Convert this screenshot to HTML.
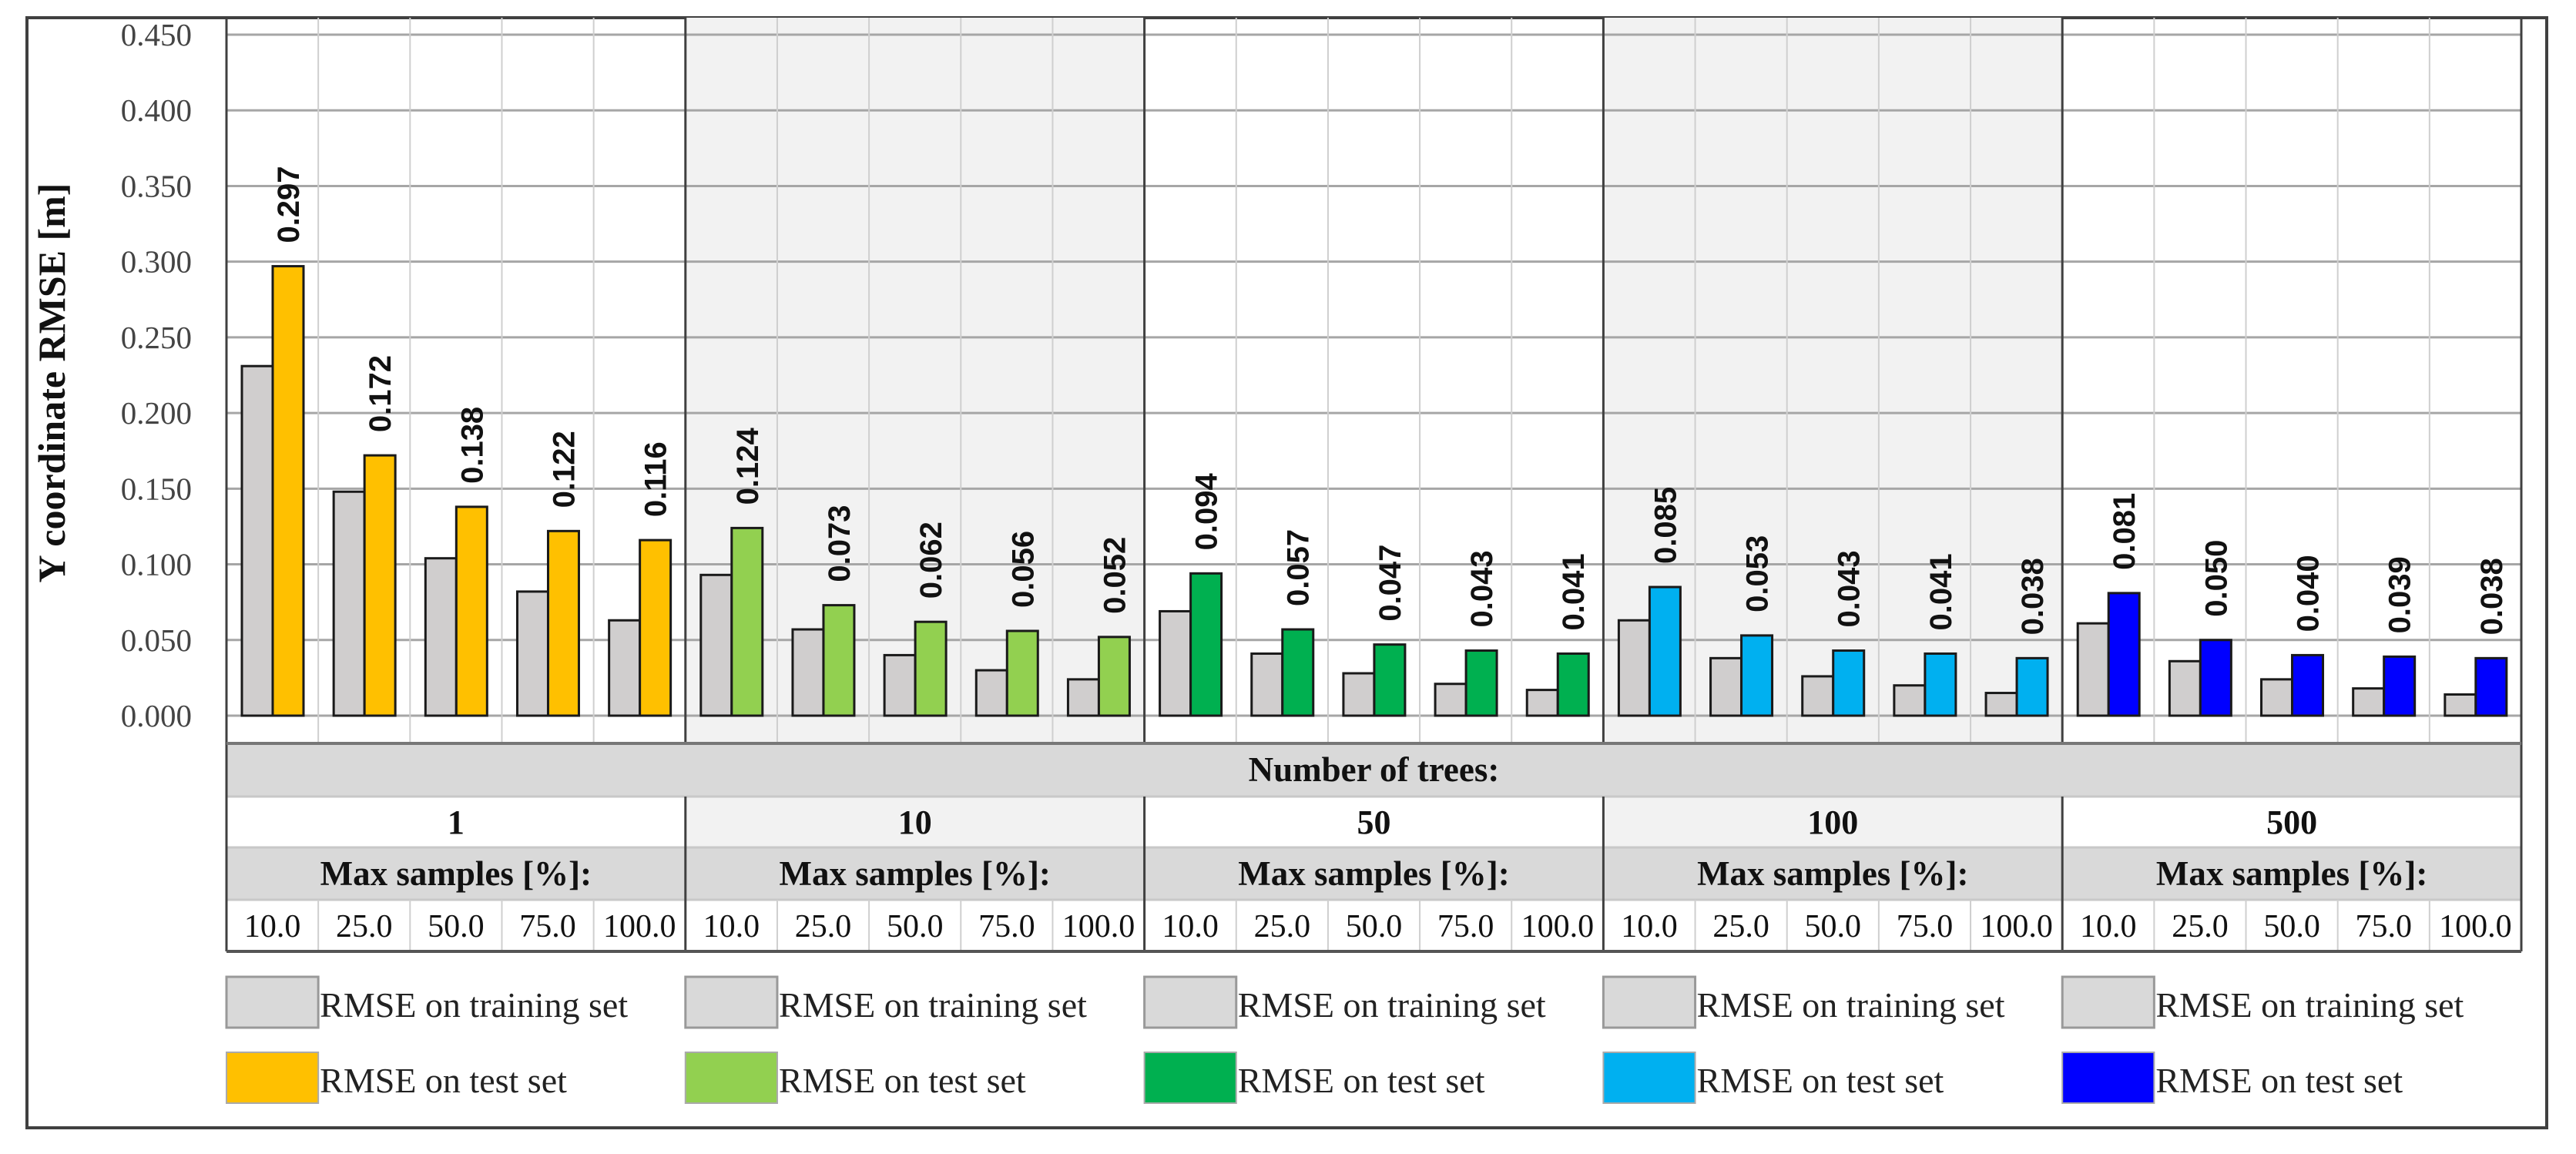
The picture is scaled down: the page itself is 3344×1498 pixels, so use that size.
<!DOCTYPE html>
<html><head><meta charset="utf-8"><style>
html,body{margin:0;padding:0;background:#fff;}
svg{display:block;}
</style></head><body>
<svg id="chart" xmlns="http://www.w3.org/2000/svg" width="3344" height="1498" viewBox="0 0 3344 1498"></svg>
<script>
const groups = ["1","10","50","100","500"];
const samples = ["10.0","25.0","50.0","75.0","100.0"];
const trainValues = [
  [0.231,0.148,0.104,0.082,0.063],
  [0.093,0.057,0.040,0.030,0.024],
  [0.069,0.041,0.028,0.021,0.017],
  [0.063,0.038,0.026,0.020,0.015],
  [0.061,0.036,0.024,0.018,0.014]
];
const testValues = [
  [0.297,0.172,0.138,0.122,0.116],
  [0.124,0.073,0.062,0.056,0.052],
  [0.094,0.057,0.047,0.043,0.041],
  [0.085,0.053,0.043,0.041,0.038],
  [0.081,0.050,0.040,0.039,0.038]
];
const yTicks = [0,0.05,0.1,0.15,0.2,0.25,0.3,0.35,0.4,0.45];
const testColors = ["#ffc000","#92d050","#00b050","#00b0f0","#0000ff"];

const svg = document.getElementById('chart');
const NS = "http://www.w3.org/2000/svg";
function mk(tag, attrs, parent){const e=document.createElementNS(NS,tag);for(const k in attrs)e.setAttribute(k,attrs[k]);(parent||svg).appendChild(e);return e;}
const L=294, R=3273, TOP=23, Y0=929, YMAX=45, PB=965;
const gW=(R-L)/5, sW=gW/5;
function y(v){return Y0-(v/0.45)*(Y0-YMAX);}
function gx(i){return L+i*gW;}
const serif='"Liberation Serif", serif';

let f=mk('rect',{x:35,y:23,width:3271,height:1441,fill:'#fff',stroke:'#404040','stroke-width':4});



[1,3].forEach(i=>{
  let r=mk('rect',{x:gx(i),y:TOP,width:gW,height:PB-TOP,fill:'#f2f2f2'});
  
  
  let r2=mk('rect',{x:gx(i),y:1034,width:gW,height:66,fill:'#f2f2f2'});
  
  
});
[[965,1034],[1100,1168]].forEach(([a,b])=>{
  let r=mk('rect',{x:L,y:a,width:R-L,height:b-a,fill:'#d9d9d9',stroke:'#c8c8c8','stroke-width':3});
  
  
});
yTicks.forEach(t=>{
  let l=mk('line',{x1:L,x2:R,y1:y(t),y2:y(t),stroke:'#a6a6a6','stroke-width':3});
  
  
  let tx=mk('text',{x:249,y:y(t)+14,'text-anchor':'end','font-family':serif,'font-size':41,fill:'#444'});
  tx.textContent=t.toFixed(3);
  
  
});
for(let i=1;i<25;i++){
  if(i%5===0)continue;
  let x=L+i*sW;
  [[TOP,PB],[1168,1235]].forEach(([a,b])=>{
    let l=mk('line',{x1:x,x2:x,y1:a,y2:b,stroke:'#cfcfcf','stroke-width':2});
    
    
  });
}
for(let g=0;g<5;g++){
  for(let s=0;s<5;s++){
    const x0=gx(g)+s*sW+20;
    let b1=mk('rect',{x:x0,y:y(trainValues[g][s]),width:40,height:Y0-y(trainValues[g][s]),fill:'#d0cece',stroke:'#1a1a1a','stroke-width':3});
    
    
    let b2=mk('rect',{x:x0+40,y:y(testValues[g][s]),width:40,height:Y0-y(testValues[g][s]),fill:testColors[g],stroke:'#1a1a1a','stroke-width':3});
    
    
    const cx=x0+60, ty=y(testValues[g][s])-30;
    let t=mk('text',{x:cx+14,y:ty,transform:`rotate(-90 ${cx+14} ${ty})`,'font-family':'"Liberation Sans", sans-serif','font-size':40,'font-weight':'bold',fill:'#111'});
    t.textContent=testValues[g][s].toFixed(3);
    
    
  }
}
for(let i=0;i<=5;i++){
  let x=gx(i);
  let l=mk('line',{x1:x,x2:x,y1:TOP,y2:i===0||i===5?1235:965,stroke:'#404040','stroke-width':3});
  
  
  if(i>0&&i<5){
    let l2=mk('line',{x1:x,x2:x,y1:1034,y2:1235,stroke:'#404040','stroke-width':3});
    
    
  }
}
let bl=mk('line',{x1:L,x2:R,y1:1235,y2:1235,stroke:'#555','stroke-width':4});


let pl=mk('line',{x1:L,x2:R,y1:PB,y2:PB,stroke:'#777','stroke-width':4});


let nt=mk('text',{x:(L+R)/2,y:1014,'text-anchor':'middle','font-family':serif,'font-size':45,'font-weight':'bold',fill:'#111'});
nt.textContent='Number of trees:';


for(let g=0;g<5;g++){
  const c=gx(g)+gW/2;
  let t=mk('text',{x:c,y:1082,'text-anchor':'middle','font-family':serif,'font-size':44,'font-weight':'bold',fill:'#111'});
  t.textContent=groups[g];
  
  
  let m=mk('text',{x:c,y:1149,'text-anchor':'middle','font-family':serif,'font-size':45,'font-weight':'bold',fill:'#111'});
  m.textContent='Max samples [%]:';
  
  
  for(let s=0;s<5;s++){
    let v=mk('text',{x:gx(g)+s*sW+sW/2,y:1216,'text-anchor':'middle','font-family':serif,'font-size':42,fill:'#111'});
    v.textContent=samples[s];
    
    
  }
}
let yt=mk('text',{x:84,y:497,transform:'rotate(-90 84 497)','text-anchor':'middle','font-family':serif,'font-size':50,'font-weight':'bold',fill:'#111'});
yt.textContent='Y coordinate RMSE [m]';


for(let g=0;g<5;g++){
  const x=gx(g);
  let s1=mk('rect',{x:x,y:1268,width:sW,height:66,fill:'#d9d9d9',stroke:'#999','stroke-width':3});
  
  
  let t1=mk('text',{x:x+sW+2,y:1320,'font-family':serif,'font-size':46,fill:'#222'});
  t1.textContent='RMSE on training set';
  
  
  let s2=mk('rect',{x:x,y:1366,width:sW,height:66,fill:testColors[g],stroke:'#aaa','stroke-width':2});
  
  
  let t2=mk('text',{x:x+sW+2,y:1418,'font-family':serif,'font-size':46,fill:'#222'});
  t2.textContent='RMSE on test set';
  
  
}
</script>
</body></html>
